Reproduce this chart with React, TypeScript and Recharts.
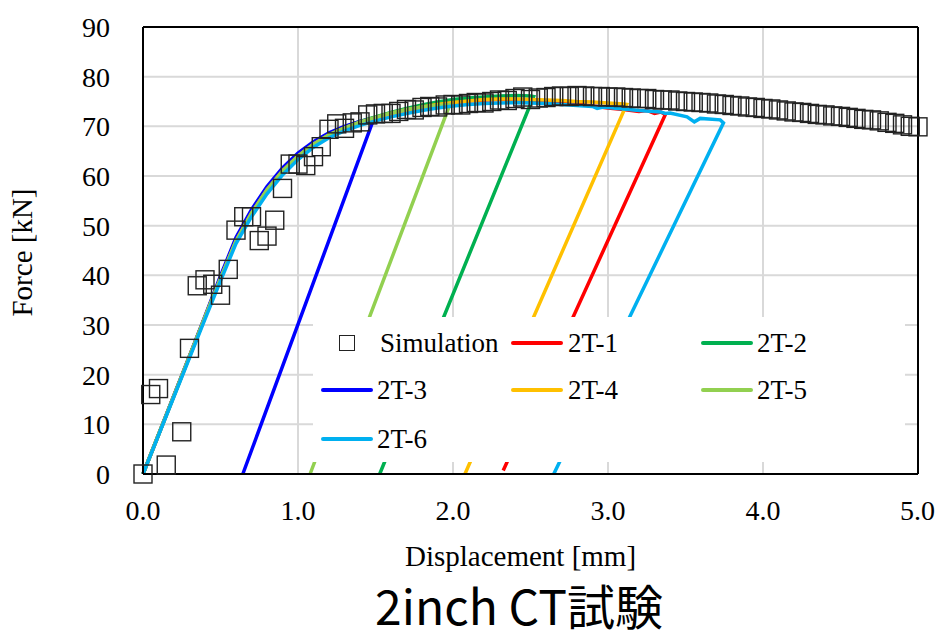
import React from 'react';
import { ComposedChart, Line, Scatter, XAxis, YAxis, CartesianGrid, ReferenceLine } from 'recharts';

const serif = '"Liberation Serif", "Times New Roman", Times, "DejaVu Serif", serif';

const xTicks = [0, 1, 2, 3, 4, 5];
const yTicks = [0, 10, 20, 30, 40, 50, 60, 70, 80, 90];

// Simulation (open squares)
const simDisp = [
  0, 0.05, 0.1, 0.15, 0.25, 0.3, 0.35, 0.4, 0.45, 0.5, 0.55, 0.6, 0.65, 0.7, 0.75, 0.8,
  0.85, 0.9, 0.95, 1.0, 1.05, 1.1, 1.15, 1.2, 1.25, 1.3, 1.35, 1.4, 1.45, 1.5, 1.55, 1.6,
  1.65, 1.7, 1.75, 1.8, 1.85, 1.9, 1.95, 2.0, 2.05, 2.1, 2.15, 2.2, 2.25, 2.3, 2.35, 2.4,
  2.45, 2.5, 2.55, 2.6, 2.65, 2.7, 2.75, 2.8, 2.85, 2.9, 2.95, 3.0, 3.05, 3.1, 3.15, 3.2,
  3.25, 3.3, 3.35, 3.4, 3.45, 3.5, 3.55, 3.6, 3.65, 3.7, 3.75, 3.8, 3.85, 3.9, 3.95, 4.0,
  4.05, 4.1, 4.15, 4.2, 4.25, 4.3, 4.35, 4.4, 4.45, 4.5, 4.55, 4.6, 4.65, 4.7, 4.75, 4.8,
  4.85, 4.9, 4.95, 5.0,
];
const simForce = [
  0, 16.0, 17.2, 1.8, 8.5, 25.3, 37.9, 39.1, 38.2, 36.0, 41.2, 49.1, 51.8, 51.8, 47.0, 47.9,
  51.1, 57.5, 62.4, 62.4, 62.1, 63.9, 65.9, 69.4, 70.5, 69.6, 70.7, 70.9, 72.3, 72.5, 72.6, 72.6,
  73.0, 73.4, 73.3, 73.8, 74.0, 73.9, 74.3, 74.4, 74.3, 74.6, 74.8, 74.7, 75.0, 75.3, 75.2, 75.6,
  75.9, 75.4, 75.7, 75.8, 76.0, 76.1, 76.0, 76.2, 76.1, 76.0, 76.0, 75.9, 75.9, 75.8, 75.7, 75.6,
  75.6, 75.4, 75.3, 75.3, 75.1, 75.0, 74.9, 74.8, 74.7, 74.5, 74.4, 74.2, 74.1, 73.9, 73.8, 73.6,
  73.5, 73.3, 73.1, 72.9, 72.8, 72.6, 72.4, 72.3, 72.1, 72.0, 71.8, 71.6, 71.4, 71.3, 71.1, 70.8,
  70.6, 70.3, 70.0, 69.9,
];

// Test 2T-1
const t1Disp = [0, 0.1, 0.2, 0.3, 0.4, 0.5, 0.6, 0.7, 0.8, 0.9, 1.0, 1.1, 1.2, 1.3, 1.4, 1.5, 1.6, 1.7, 1.8, 1.9, 2.0, 2.1, 2.2, 2.3, 2.4, 2.5, 2.6, 2.7, 2.8, 2.9, 3.0, 3.1, 3.2, 3.25, 3.3, 3.34, 3.37, 2.324];
const t1Force = [0, 7.9, 15.8, 23.7, 31.6, 39.5, 47.0, 52.6, 57.3, 61.1, 64.1, 66.5, 68.4, 69.8, 70.9, 71.8, 72.6, 73.3, 73.9, 74.4, 74.8, 75.1, 75.3, 75.4, 75.4, 75.3, 75.1, 74.8, 74.5, 74.1, 73.7, 73.4, 73.0, 73.2, 72.6, 72.9, 72.4, 0.7];

// Test 2T-2
const t2Disp = [0, 0.1, 0.2, 0.3, 0.4, 0.5, 0.6, 0.7, 0.8, 0.9, 1.0, 1.1, 1.2, 1.3, 1.4, 1.5, 1.6, 1.7, 1.8, 1.9, 2.0, 2.1, 2.2, 2.3, 2.4, 2.5, 2.52, 1.527];
const t2Force = [0, 7.9, 15.8, 23.7, 31.6, 39.5, 47.1, 52.7, 57.4, 61.2, 64.2, 66.6, 68.5, 69.9, 71.0, 71.9, 72.8, 73.6, 74.3, 74.9, 75.4, 75.7, 75.9, 76.1, 76.2, 76.1, 76.0, 0];

// Test 2T-3
const t3Disp = [0, 0.1, 0.2, 0.3, 0.4, 0.5, 0.6, 0.7, 0.8, 0.9, 1.0, 1.1, 1.2, 1.3, 1.4, 1.49, 0.644];
const t3Force = [0, 7.9, 15.9, 23.8, 31.8, 39.9, 47.6, 53.2, 57.9, 61.6, 64.6, 66.9, 68.7, 70.0, 71.0, 71.6, 0];

// Test 2T-4
const t4Disp = [0, 0.1, 0.2, 0.3, 0.4, 0.5, 0.6, 0.7, 0.8, 0.9, 1.0, 1.1, 1.2, 1.3, 1.4, 1.5, 1.6, 1.7, 1.8, 1.9, 2.0, 2.1, 2.2, 2.3, 2.4, 2.5, 2.6, 2.7, 2.8, 2.9, 3.0, 3.1, 3.12, 2.077];
const t4Force = [0, 7.9, 15.8, 23.7, 31.6, 39.4, 46.9, 52.5, 57.2, 61.0, 64.0, 66.4, 68.3, 69.7, 70.8, 71.7, 72.6, 73.3, 73.9, 74.4, 74.8, 75.1, 75.4, 75.5, 75.5, 75.4, 75.3, 75.2, 75.0, 74.9, 74.7, 74.5, 74.4, 0];

// Test 2T-5
const t5Disp = [0, 0.1, 0.2, 0.3, 0.4, 0.5, 0.6, 0.7, 0.8, 0.9, 1.0, 1.1, 1.2, 1.3, 1.4, 1.5, 1.6, 1.7, 1.8, 1.9, 1.98, 1.078];
const t5Force = [0, 7.9, 15.8, 23.7, 31.6, 39.4, 46.9, 52.5, 57.2, 61.0, 64.0, 66.4, 68.3, 69.7, 70.9, 71.8, 72.7, 73.4, 73.9, 74.2, 74.4, 0];

// Test 2T-6
const t6Disp = [0, 0.1, 0.2, 0.3, 0.4, 0.5, 0.6, 0.7, 0.8, 0.9, 1.0, 1.1, 1.2, 1.3, 1.4, 1.5, 1.6, 1.7, 1.8, 1.9, 2.0, 2.1, 2.2, 2.3, 2.4, 2.5, 2.6, 2.7, 2.8, 2.9, 2.93, 2.97, 3.1, 3.2, 3.34, 3.37, 3.4, 3.51, 3.557, 3.595, 3.724, 3.745, 2.65];
const t6Force = [0, 7.8, 15.6, 23.4, 31.2, 38.9, 46.4, 51.8, 56.4, 60.2, 63.3, 65.8, 67.7, 69.1, 70.2, 71.1, 71.9, 72.6, 73.2, 73.7, 74.1, 74.4, 74.6, 74.7, 74.8, 74.7, 74.6, 74.4, 74.2, 74.0, 73.6, 73.9, 73.5, 73.2, 72.9, 72.6, 72.7, 71.9, 70.9, 71.6, 71.3, 70.7, 0];

const zip = (d: number[], f: number[]) => d.map((x, i) => ({ x, y: f[i] }));

const simData = zip(simDisp, simForce);

const tests = [
  { name: '2T-1', color: '#ff0000', data: zip(t1Disp, t1Force) },
  { name: '2T-2', color: '#00b050', data: zip(t2Disp, t2Force) },
  { name: '2T-3', color: '#0000ff', data: zip(t3Disp, t3Force) },
  { name: '2T-4', color: '#ffc000', data: zip(t4Disp, t4Force) },
  { name: '2T-5', color: '#92d050', data: zip(t5Disp, t5Force) },
  { name: '2T-6', color: '#00b0f0', data: zip(t6Disp, t6Force) },
];

const SquareDot = (props: any) => {
  const { cx, cy } = props;
  if (cx == null || cy == null) return null;
  return <rect x={cx - 9} y={cy - 9} width={18} height={18} fill="none" stroke="#222" strokeWidth={1.4} />;
};

const ForceLabel = ({ viewBox }: any) => {
  const x = viewBox.x - 61;
  const y = viewBox.y + viewBox.height / 2 + 2;
  return (
    <text x={x} y={y} transform={`rotate(-90, ${x}, ${y})`} textAnchor="middle" dominantBaseline="central"
      fontSize={29} fontFamily={serif} fill="#000">
      Force [kN]
    </text>
  );
};

const DispLabel = ({ viewBox }: any) => {
  const x = viewBox.x + viewBox.width / 2 - 10;
  const y = viewBox.y + 82;
  return (
    <text x={x} y={y} textAnchor="middle" dominantBaseline="central" fontSize={29} fontFamily={serif} fill="#000">
      Displacement [mm]
    </text>
  );
};

const LegendBox = () => {
  const text: React.CSSProperties = { position: 'absolute', fontFamily: serif, fontSize: 27, lineHeight: '30px', color: '#000', whiteSpace: 'nowrap' };
  const cols = [
    { line: 321, label: 377 },
    { line: 511, label: 568 },
    { line: 701, label: 757 },
  ];
  const rows = [343, 390, 439];
  const items = [{ name: 'Simulation', color: '' }, ...tests.map((t) => ({ name: t.name, color: t.color }))];
  return (
    <div style={{ position: 'absolute', left: 313, top: 317, width: 592, height: 145, background: '#fff' }}>
      {items.map((it, i) => {
        const col = cols[i % 3];
        const row = rows[Math.floor(i / 3)];
        const ox = -313;
        const oy = -317;
        return (
          <React.Fragment key={it.name}>
            {it.color ? (
              <div style={{ position: 'absolute', left: col.line + ox, top: row - 2 + oy, width: 52, height: 4, borderRadius: 2, background: it.color }} />
            ) : (
              <div style={{ position: 'absolute', left: 339 + ox, top: row - 8 + oy, width: 14, height: 14, border: '1.3px solid #222' }} />
            )}
            <div style={{ ...text, left: (it.color ? col.label : 380) + ox, top: row - 15 + oy }}>{it.name}</div>
          </React.Fragment>
        );
      })}
    </div>
  );
};

export default function App() {
  return (
    <div style={{ position: 'absolute', left: 0, top: 0, width: 935, height: 631, background: '#fff', fontFamily: serif }}>
      <ComposedChart width={935} height={631} margin={{ top: 27, right: 17, bottom: 117, left: 83 }}>
        <CartesianGrid stroke="#d9d9d9" strokeWidth={2} />
        <XAxis
          dataKey="x"
          type="number"
          domain={[0, 5]}
          ticks={xTicks}
          tickFormatter={(v: number) => v.toFixed(1)}
          height={40}
          tickSize={0}
          tickMargin={26}
          axisLine={{ stroke: '#000', strokeWidth: 2 }}
          tick={{ fill: '#000', fontSize: 28, fontFamily: serif }}
          label={<DispLabel />}
        />
        <YAxis
          type="number"
          domain={[0, 90]}
          ticks={yTicks}
          width={60}
          tickSize={0}
          tickMargin={33}
          axisLine={{ stroke: '#000', strokeWidth: 2 }}
          tick={{ fill: '#000', fontSize: 28, fontFamily: serif }}
          label={<ForceLabel />}
        />
        <ReferenceLine y={90} stroke="#000" strokeWidth={2} />
        <ReferenceLine x={5} stroke="#000" strokeWidth={2} />
        <Scatter name="Simulation" data={simData} dataKey="y" shape={<SquareDot />} isAnimationActive={false} />
        {tests.map((t) => (
          <Line
            key={t.name}
            name={t.name}
            data={t.data}
            dataKey="y"
            type="linear"
            stroke={t.color}
            strokeWidth={3.5}
            dot={false}
            activeDot={false}
            isAnimationActive={false}
          />
        ))}
      </ComposedChart>
      <LegendBox />
      <div style={{ position: 'absolute', left: 219, top: 580, width: 600, textAlign: 'center', fontFamily: '"Noto Sans CJK JP", "Noto Sans", sans-serif', fontSize: 48, lineHeight: 1, color: '#000', whiteSpace: 'nowrap' }}>
        2inch CT試験
      </div>
    </div>
  );
}
